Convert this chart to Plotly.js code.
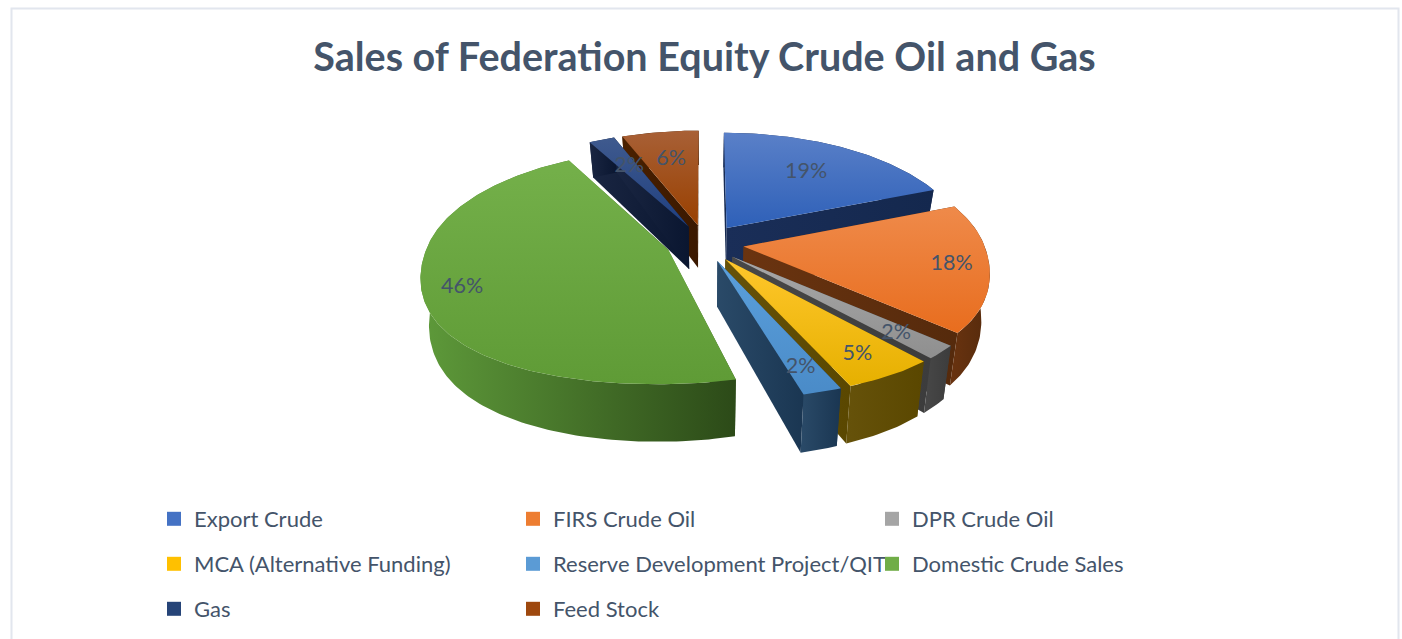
<!DOCTYPE html>
<html><head><meta charset="utf-8">
<script src="https://cdn.plot.ly/plotly-3.0.1.min.js"></script>
<style>html,body{margin:0;padding:0;background:#fff;overflow:hidden}</style>
</head><body><div id="chart" style="width:1402px;height:639px"></div>
<script>
const categories = ["Export Crude","FIRS Crude Oil","DPR Crude Oil","MCA (Alternative Funding)","Reserve Development Project/QIT","Domestic Crude Sales","Gas","Feed Stock"];
const values = [19,18,2,5,2,46,2,6];
const topLight = ["#5a80c8","#ef8a4a","#a8a8a8","#ffc72c","#5ba0dc","#74b04a","#3f5a8e","#a86036"];
const topDark  = ["#2e60b8","#e86d1e","#8f8f8f","#e6b000","#4a8bc8","#5f9b36","#1f3f80","#994000"];
const wallLeft  = ["#1a2e58","#6b3410","#484848","#66520a","#2a4a68","#5e9a3a","#1a2642","#4a2000"];
const wallRight = ["#14284e","#552a0c","#3c3c3c","#5a4700","#1a3652","#2c4a18","#0a1630","#3a1800"];
const legendColor = ["#4472c4","#ed7d31","#a5a5a5","#ffc000","#5b9bd5","#70ad47","#264478","#9e480e"];
const labelReach = [0.66,0.85,0.82,0.84,0.84,0.85,0.66,0.68];

const textColor = "#44546a";
const fontFamily = "Lato, 'Open Sans', sans-serif";
const W = 1402, H = 639;
const cx = 705, cy = 243, R = 240, Rk = 113, persp = 0.144, frontStretch = 0.12, depth = 44, pull = 0.163;
const total = values.reduce((a,b)=>a+b,0);

function project(u,v,z){
  const s = 1/(1-persp*v);
  const sx = v>0 ? s*(1+frontStretch*v*v) : s;
  return [cx + R*u*sx*(1-0.03*z), cy + Rk*v*s + depth*z*Math.pow(s,1.6)];
}
const rad = d => d*Math.PI/180;
function poly(pts){
  const c = pts.concat([pts[0]]);
  return {x:c.map(p=>p[0]), y:c.map(p=>p[1])};
}
function shape(pts, colors, orient){
  const p = poly(pts);
  const ax = orient==="horizontal" ? p.x : p.y;
  return {type:"scatter", mode:"lines", x:p.x, y:p.y, fill:"toself", line:{width:0},
    fillgradient:{type:orient, start:Math.min(...ax), stop:Math.max(...ax),
      colorscale:[[0,colors[0]],[1,colors[1]]]},
    hoverinfo:"skip", showlegend:false};
}

let cum = 0;
const slices = values.map((val,i)=>{
  const a0 = cum/total*360; cum += val; const a1 = cum/total*360;
  return {i,a0,a1,mid:(a0+a1)/2};
});
const order = slices.slice().sort((a,b)=>(-Math.cos(rad(a.mid)))-(-Math.cos(rad(b.mid))));

const traces = [];
const labelX = [], labelY = [], labelText = [];
order.forEach(sl=>{
  const {i,a0,a1,mid} = sl;
  const du = pull*Math.sin(rad(mid)), dv = -pull*Math.cos(rad(mid));
  const at = (ang,r,z)=>project(du+r*Math.sin(rad(ang)), dv-r*Math.cos(rad(ang)), z);
  const arcAngles = [];
  const n = Math.max(4,Math.ceil(a1-a0));
  for(let k=0;k<=n;k++) arcAngles.push(a0+(a1-a0)*k/n);
  const wc = [wallLeft[i],wallRight[i]];
  [a0,a1].forEach(a=>{
    traces.push(shape([at(a,0,0),at(a,1,0),at(a,1,1),at(a,0,1)],wc,"horizontal"));
  });
  const rimTop = arcAngles.map(a=>at(a,1,0));
  const rimBot = arcAngles.map(a=>at(a,1,1)).reverse();
  traces.push(shape(rimTop.concat(rimBot),wc,"horizontal"));
  traces.push(shape([at(a0,0,0)].concat(rimTop),[topLight[i],topDark[i]],"vertical"));
  const lp = at(mid,labelReach[i],0);
  labelX.push(lp[0]); labelY.push(lp[1]);
  labelText.push(Math.round(values[i]/total*100)+"%");
});
traces.push({type:"scatter",mode:"text",x:labelX,y:labelY,text:labelText,textposition:"middle center",
  textfont:{family:fontFamily,size:21.5,color:textColor},hoverinfo:"skip",showlegend:false});

categories.forEach((name,i)=>{
  const row = Math.floor(i/3);
  traces.push({type:"scatter",mode:"markers",x:[null],y:[null],name,
    legend: row===0?"legend":("legend"+(row+1)),
    marker:{symbol:"square",size:14,color:legendColor[i],line:{width:0}},hoverinfo:"skip"});
});

const legendBase = y=>({orientation:"h",x:154/W,xanchor:"left",y:1-y/H,yanchor:"middle",
  bgcolor:"rgba(0,0,0,0)",borderwidth:0,entrywidth:314,entrywidthmode:"pixels",
  font:{family:fontFamily,size:22,color:textColor},itemclick:false,itemdoubleclick:false});

Plotly.newPlot("chart",traces,{
  width:W,height:H,margin:{l:0,r:0,t:0,b:0},
  paper_bgcolor:"#fff",plot_bgcolor:"#fff",
  title:{text:"<b>Sales of Federation Equity Crude Oil and Gas</b>",x:704.5/W,xanchor:"center",xref:"paper",
    y:1-57/H,yanchor:"middle",yref:"paper",font:{family:fontFamily,size:39.5,color:textColor}},
  xaxis:{visible:false,range:[0,W],fixedrange:true},
  yaxis:{visible:false,range:[H,0],fixedrange:true},
  shapes:[{type:"path",xref:"x",yref:"y",path:"M11.5,660 L11.5,8.5 L1398.5,8.5 L1398.5,660",
    line:{color:"#e2e6ee",width:2},layer:"below"}],
  legend:legendBase(519),legend2:legendBase(564),legend3:legendBase(609),
  showlegend:true
},{staticPlot:true,displayModeBar:false});
</script></body></html>
